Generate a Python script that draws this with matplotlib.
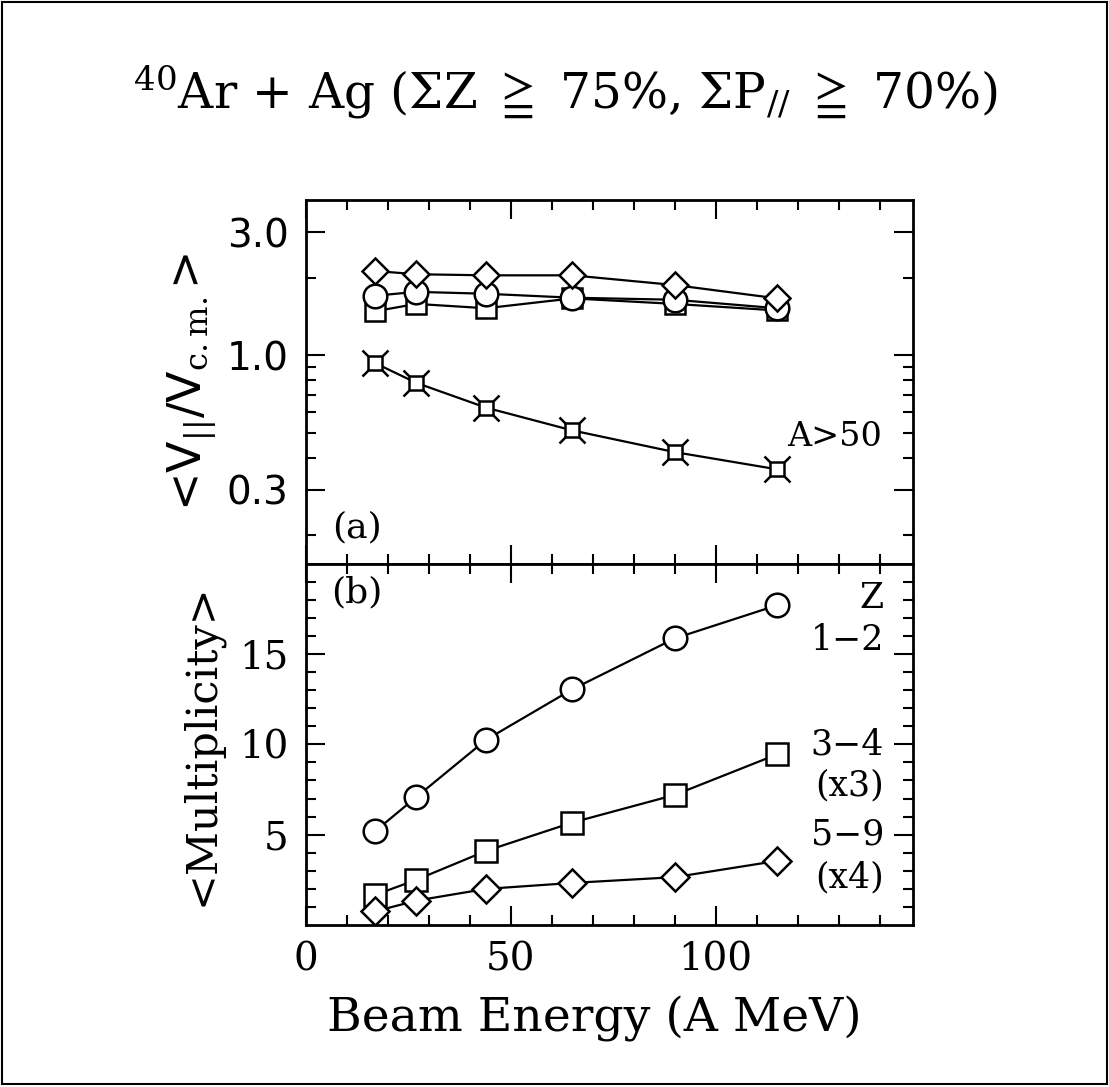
import numpy as np
import matplotlib.pyplot as plt
from matplotlib.patches import Rectangle
from matplotlib.ticker import FixedLocator, NullFormatter

# beam energies (A MeV)
energy = [17, 27, 44, 65, 90, 115]

# (a) <V_par / V_cm>
v_diamond = [2.12, 2.06, 2.04, 2.04, 1.87, 1.66]
v_circle = [1.70, 1.76, 1.73, 1.67, 1.64, 1.52]
v_square = [1.48, 1.58, 1.52, 1.66, 1.58, 1.49]
v_heavy = [0.93, 0.78, 0.625, 0.51, 0.42, 0.36]

# (b) <Multiplicity>
m_z12 = [5.2, 7.08, 10.25, 13.04, 15.86, 17.7]
m_z34 = [1.67, 2.5, 4.1, 5.67, 7.2, 9.45]
m_z59 = [0.76, 1.35, 2.0, 2.33, 2.65, 3.55]

serif = ['DejaVu Serif', 'DejaVu Sans', 'Noto Sans']
plt.rcParams['font.family'] = serif
plt.rcParams['mathtext.fontset'] = 'dejavuserif'

fig = plt.figure(figsize=(11.09, 10.87), dpi=100)
ax1 = fig.add_axes([0.2755, 0.4815, 0.5475, 0.3345])
ax2 = fig.add_axes([0.2755, 0.149, 0.5475, 0.3325])

lw = 1.6
mk = dict(color='k', lw=lw, mfc='white', mec='k', mew=1.8)

# panel (a)
ax1.plot(energy, v_square, marker='s', ms=14, **mk)
ax1.plot(energy, v_circle, marker='o', ms=17, **mk)
ax1.plot(energy, v_diamond, marker='D', ms=13, **mk)
ax1.plot(energy, v_heavy, color='k', lw=lw)
ax1.plot(energy, v_heavy, ls='none', marker='x', ms=19, mec='k', mew=1.8)
ax1.plot(energy, v_heavy, ls='none', marker='s', ms=10, mfc='white', mec='k', mew=1.8)

ax1.set_yscale('log')
ax1.set_xlim(0, 148)
ax1.set_ylim(0.155, 4.0)
ax1.yaxis.set_major_locator(FixedLocator([0.3, 1.0, 3.0]))
ax1.set_yticklabels(['0.3', '1.0', '3.0'], family='DejaVu Sans')
ax1.yaxis.set_minor_locator(FixedLocator([0.2, 0.4, 0.5, 0.6, 0.7, 0.8, 0.9, 2.0]))
ax1.yaxis.set_minor_formatter(NullFormatter())
ax1.tick_params(axis='x', labelbottom=False)
ax1.text(12.5, 0.215, '(a)', fontsize=26, ha='center', va='center')
ax1.text(129, 0.48, 'A>50', fontsize=24, ha='center', va='center')
ax1.set_ylabel(r'<V$_{||}$/V$_{\rm c.m.}$>', fontsize=33, labelpad=6, family='DejaVu Sans')

# panel (b)
ax2.plot(energy, m_z12, marker='o', ms=17, **mk)
ax2.plot(energy, m_z34, marker='s', ms=16, **mk)
ax2.plot(energy, m_z59, marker='D', ms=14, **mk)

ax2.set_xlim(0, 148)
ax2.set_ylim(0, 20)
ax2.set_yticks([5, 10, 15])
ax2.set_yticklabels(['5', '10', '15'])
ax2.yaxis.set_minor_locator(FixedLocator(np.arange(1, 20)))
ax2.set_xticks([0, 50, 100])
ax2.set_xticklabels(['0', '50', '100'])
ax2.text(12.5, 18.4, '(b)', fontsize=26, ha='center', va='center')
for s, yy in [('Z', 18.1), ('1\u22122', 15.8), ('3\u22124', 10.0), ('(x3)', 7.75),
              ('5\u22129', 5.0), ('(x4)', 2.65)]:
    ax2.text(141, yy, s, fontsize=25, ha='right', va='center')
ax2.set_ylabel('<Multiplicity>', fontsize=31, labelpad=12)

for ax in (ax1, ax2):
    ax.xaxis.set_minor_locator(FixedLocator(np.arange(10, 150, 10)))
    ax.tick_params(which='both', direction='in', top=True, right=True, width=1.5)
    ax.tick_params(which='major', length=14, labelsize=28, pad=12)
    ax.tick_params(which='minor', length=7)
    for sp in ax.spines.values():
        sp.set_linewidth(2.0)

fig.text(0.536, 0.063, 'Beam Energy (A MeV)', fontsize=34, ha='center', va='center')
fig.text(0.51, 0.915, r'$^{40}$Ar + Ag ($\Sigma$Z $\geqq$ 75%, $\Sigma$P$_{//}$ $\geqq$ 70%)',
         fontsize=35, ha='center', va='center')

fig.patches.append(Rectangle((0.002, 0.003), 0.996, 0.995, transform=fig.transFigure,
                             fill=False, lw=1.5, ec='k'))

fig.savefig('out.png', dpi=100)
